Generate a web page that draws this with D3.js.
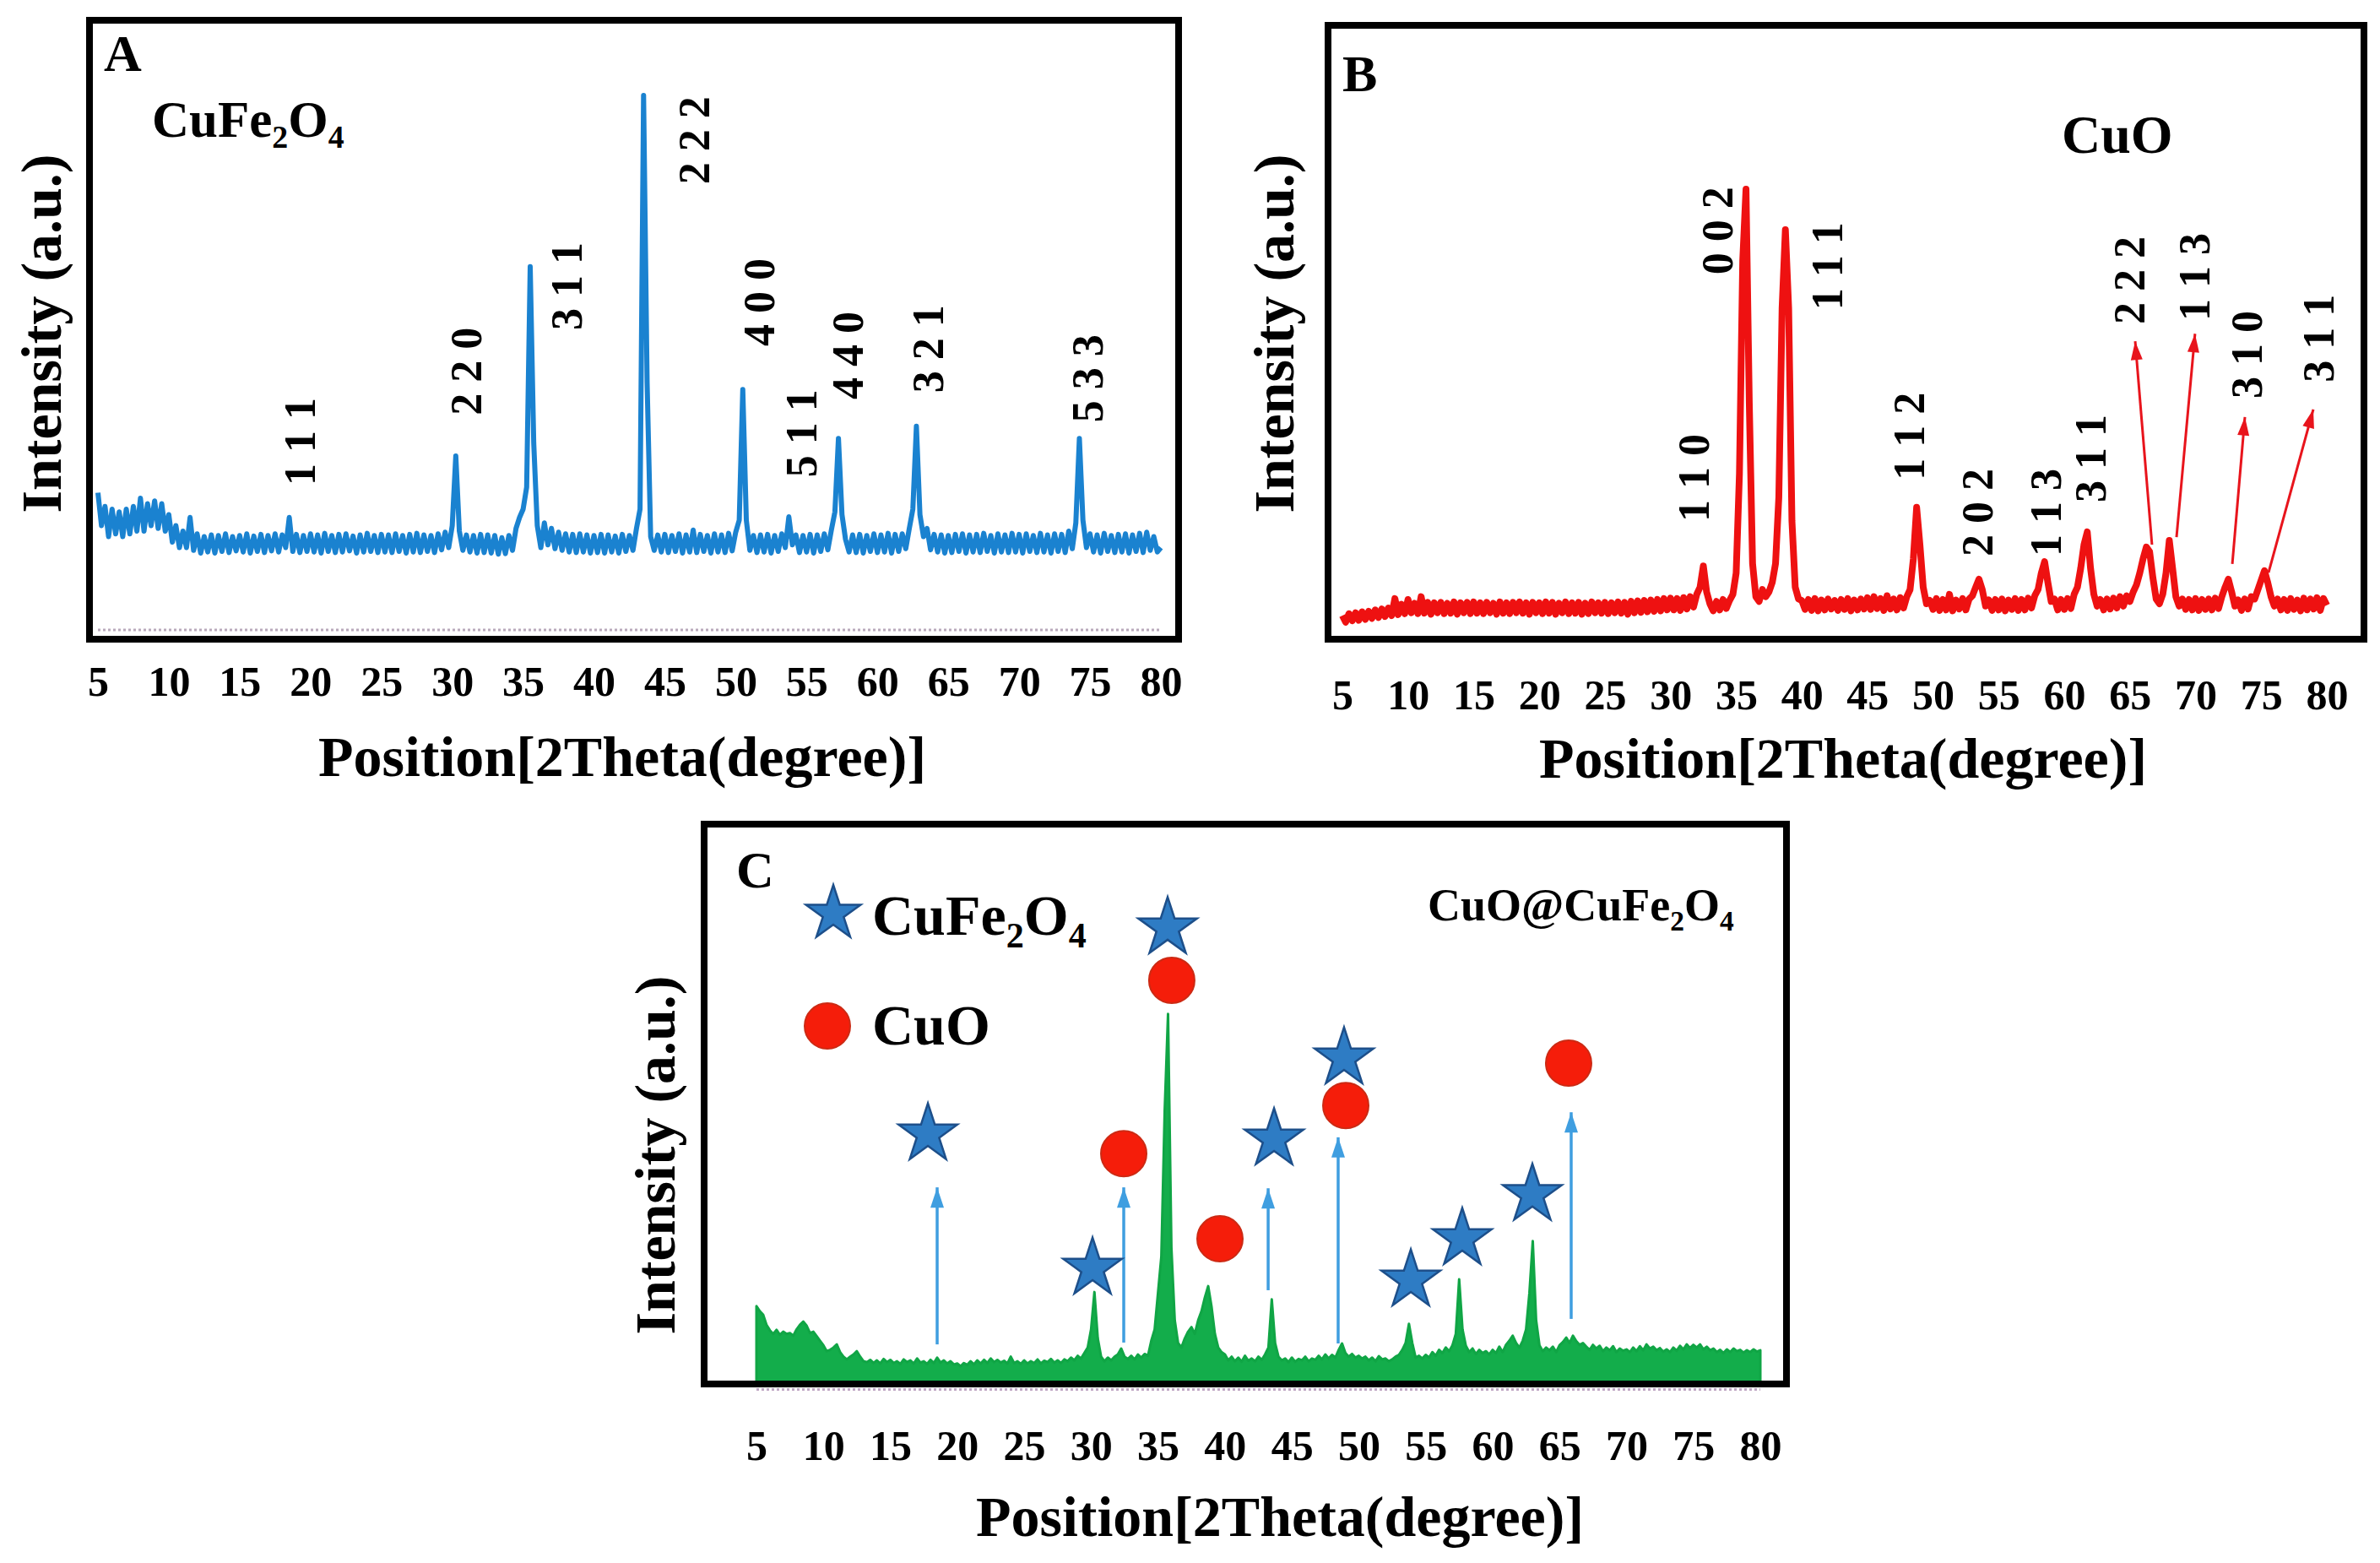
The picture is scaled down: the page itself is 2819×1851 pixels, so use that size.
<!DOCTYPE html>
<html>
<head>
<meta charset="utf-8">
<script src="https://cdn.jsdelivr.net/npm/d3@7"></script>
<style>
  body { margin: 0; background: #fff; }
  svg text { font-family: "Liberation Serif", "Times New Roman", serif; font-weight: bold; }
</style>
</head>
<body>
<script>
// x grid: 2theta from 5 to 80 every 0.25 degree
var thetaStart = 5, thetaStep = 0.25;
var tickVals = [5, 10, 15, 20, 25, 30, 35, 40, 45, 50, 55, 60, 65, 70, 75, 80];

// A: CuFe2O4 pattern (a.u.)
var ferriteI = [
  25.0,19.0,22.5,17.0,22.0,17.5,21.5,17.0,22.0,17.5,22.5,18.0,24.0,18.0,23.0,19.0,23.5,18.5,23.0,18.0,
  21.0,16.0,19.0,15.0,18.0,15.0,20.5,14.5,17.5,14.0,17.0,14.2,17.3,14.0,17.2,14.3,17.5,14.1,17.0,14.4,
  17.2,14.2,17.5,14.0,17.1,14.3,17.4,14.1,17.2,14.4,17.5,14.2,17.3,15.0,20.5,14.3,17.4,14.1,17.2,14.3,
  17.5,14.2,17.3,14.0,17.6,14.3,17.2,14.1,17.4,14.2,17.5,14.4,17.1,14.0,17.3,14.2,17.6,14.3,17.2,14.1,
  17.4,14.2,17.3,14.1,17.5,14.3,17.2,14.0,17.4,14.2,17.6,14.1,17.3,14.3,17.2,14.1,17.5,14.6,17.8,15.0,
  19.0,31.7,18.0,14.5,17.3,14.2,17.2,14.0,17.4,14.1,17.3,14.0,17.2,13.8,16.8,13.9,17.2,14.5,18.5,20.5,
  22.0,26.0,66.2,34.0,19.0,15.0,19.5,15.5,18.5,14.8,17.8,14.5,17.5,14.2,17.4,14.1,17.5,14.2,17.3,14.0,
  17.2,14.1,17.4,14.0,17.3,14.2,17.1,14.0,17.4,14.3,17.2,14.5,18.5,22.0,97.4,45.0,17.0,14.5,17.3,14.2,
  17.4,14.1,17.2,14.3,17.5,14.0,17.3,14.2,18.2,14.1,17.4,14.3,17.2,14.0,17.5,14.2,17.3,14.1,17.6,14.4,
  17.8,20.0,43.8,20.0,14.5,17.2,14.1,17.3,14.2,17.4,14.0,17.2,14.3,17.5,15.0,20.6,15.5,17.3,14.1,17.2,
  14.2,17.4,14.0,17.3,14.3,17.5,14.6,18.2,21.5,34.9,21.0,16.5,14.2,17.3,14.1,17.4,14.0,17.2,14.3,17.5,
  14.1,17.3,14.2,17.6,14.0,17.4,14.3,17.5,14.8,18.5,22.0,37.1,21.0,17.0,18.5,14.6,17.4,14.2,17.3,14.0,
  17.2,14.1,17.4,14.3,17.5,14.0,17.3,14.2,17.4,14.1,17.6,14.3,17.2,14.0,17.5,14.2,17.3,14.1,17.6,14.2,
  17.4,14.0,17.5,14.3,17.2,14.1,17.6,14.2,17.3,14.0,17.5,14.3,17.4,14.1,18.0,14.8,19.5,34.9,20.0,15.0,
  17.5,14.2,17.3,14.0,17.6,14.3,17.2,14.1,17.4,14.2,17.5,14.0,17.3,14.3,17.6,14.1,17.8,14.5,17.0,14.2,
  15.0
];

// B: CuO pattern (a.u.)
var cuoI = [
  5.0,3.6,5.4,3.9,5.6,4.0,5.8,4.2,5.9,4.4,6.2,4.6,6.4,4.8,6.6,5.0,8.6,5.2,7.4,5.4,
  8.4,5.6,7.6,5.4,9.0,5.5,7.8,5.3,7.7,5.6,7.8,5.4,7.6,5.5,7.9,5.3,7.7,5.6,7.8,5.4,
  7.9,5.5,7.7,5.4,7.8,5.6,7.6,5.3,7.9,5.5,7.7,5.4,7.8,5.6,7.9,5.5,7.7,5.3,7.8,5.6,
  7.7,5.4,7.9,5.5,7.8,5.3,7.6,5.6,7.9,5.4,7.7,5.5,7.8,5.3,7.6,5.4,7.9,5.6,7.7,5.5,
  7.8,5.4,7.7,5.6,7.9,5.5,7.8,5.3,8.0,5.6,8.1,5.7,8.2,5.8,8.3,5.9,8.4,6.0,8.6,6.2,
  8.7,6.2,8.6,6.1,8.8,6.4,9.0,6.8,9.5,11.0,15.5,10.0,7.5,6.0,8.0,6.2,8.4,6.5,8.2,9.5,
  14.0,35.0,80.0,95.2,50.0,16.0,9.0,8.0,10.5,9.0,10.0,12.0,16.0,30.0,70.0,86.6,70.0,25.0,11.0,8.5,
  8.2,6.3,8.4,6.1,8.6,6.0,8.3,6.2,8.5,6.4,8.2,6.1,8.4,6.3,8.6,6.0,8.3,6.2,8.5,6.4,
  8.8,6.3,9.0,6.5,8.6,6.1,9.2,6.4,8.5,6.2,8.8,6.6,9.0,10.5,17.0,27.9,20.0,11.0,7.5,8.2,
  6.3,8.6,6.1,8.4,6.2,9.5,6.0,8.3,6.4,8.6,6.2,8.5,9.2,11.0,12.7,10.5,7.0,8.3,6.1,8.4,
  6.2,8.5,6.0,8.3,6.3,8.6,6.1,8.4,6.2,8.7,6.6,9.2,10.5,14.0,16.4,12.0,8.0,8.5,6.2,8.4,
  6.3,8.6,6.5,9.5,11.0,15.0,20.0,22.7,15.0,9.5,7.0,8.4,6.2,8.5,6.4,8.7,6.6,9.0,7.0,9.2,
  8.0,10.0,11.5,14.0,17.0,19.5,18.5,13.0,8.5,7.5,9.5,14.0,20.9,15.0,9.0,7.0,8.5,6.3,8.4,6.2,
  8.6,6.1,8.4,6.3,8.5,6.2,8.7,6.5,9.0,11.0,12.7,10.0,7.0,8.3,6.1,8.5,6.4,9.0,8.5,10.5,
  12.5,14.5,12.0,9.0,7.0,8.5,6.2,8.4,6.1,8.6,6.3,8.3,6.0,8.7,6.2,8.5,6.4,8.8,6.1,8.6,
  7.2
];

// C: CuO@CuFe2O4 pattern (a.u.)
var compositeI = [
  17.1,16.0,15.2,13.0,11.8,11.0,11.9,10.8,11.5,11.0,11.2,10.6,12.0,13.0,13.7,12.8,11.2,11.5,10.5,9.5,
  8.5,7.2,7.5,8.0,8.7,7.0,6.0,5.4,6.0,6.5,7.2,6.0,5.0,4.8,5.3,4.6,5.2,4.5,5.5,4.8,
  5.3,4.6,5.0,4.4,5.4,4.8,5.2,4.5,5.6,4.7,5.0,4.4,5.3,4.6,5.8,4.7,5.2,4.5,5.0,4.3,
  4.5,3.9,4.6,4.2,5.0,4.3,5.2,4.5,5.3,4.6,5.6,4.8,5.3,4.7,5.1,4.5,6.0,4.6,5.0,4.4,
  5.2,4.5,5.0,4.6,5.4,4.5,5.1,4.8,5.5,4.7,5.2,4.6,5.4,5.0,5.8,5.2,6.2,5.6,6.8,8.0,
  12.0,20.2,10.0,6.0,5.0,5.8,5.2,6.0,6.5,7.8,6.0,5.5,6.2,5.4,6.5,5.8,6.6,6.2,9.5,12.0,
  20.0,28.0,60.0,81.3,30.0,14.0,9.0,8.0,10.0,11.5,12.5,11.0,14.0,16.0,19.0,21.5,17.0,11.0,8.0,7.0,
  6.5,5.2,6.0,5.0,5.8,4.9,6.2,5.1,5.6,5.0,6.0,5.3,6.5,8.0,18.6,9.0,6.0,5.2,5.6,4.8,
  5.8,4.9,5.5,5.2,6.0,5.0,5.6,5.3,6.2,5.4,6.5,5.6,6.4,5.8,7.5,8.9,6.8,6.0,6.6,5.8,
  6.2,5.6,6.0,5.2,5.8,5.0,6.1,5.4,5.6,5.0,5.4,6.0,6.4,7.5,9.0,13.2,9.0,5.8,6.2,5.6,
  6.4,5.8,7.0,6.2,7.5,6.8,8.0,7.2,8.5,11.0,23.0,12.0,8.4,7.0,7.8,6.6,7.5,6.8,7.2,6.5,
  7.5,6.8,8.2,7.0,8.6,9.5,10.6,9.0,8.0,9.5,12.0,20.0,31.4,14.0,8.5,7.2,8.0,7.4,8.2,7.0,
  8.5,9.2,10.2,9.0,10.6,9.4,8.6,9.0,8.2,7.5,8.6,7.8,8.4,7.2,8.0,7.4,8.3,7.0,7.8,7.3,
  7.6,7.0,8.0,7.2,8.3,7.4,8.7,7.8,8.2,7.4,7.9,7.1,7.6,7.0,8.0,7.3,8.4,7.6,8.7,7.9,
  8.6,8.0,8.7,7.6,8.2,7.4,7.8,7.0,7.5,6.8,7.6,7.0,7.8,7.2,7.5,6.9,7.4,7.0,7.6,7.1,
  7.4
];

// hkl labels: [text, 2theta, intensity]
var ferriteHkl = [
  ["1 1 1", 19.24, 34.3], ["2 2 0", 31.03, 47.1], ["3 1 1", 38.12, 62.6],
  ["2 2 2", 47.06, 89.2], ["4 0 0", 51.70, 59.7], ["5 1 1", 54.68, 35.8],
  ["4 4 0", 57.90, 50.0], ["3 2 1", 63.56, 51.2], ["5 3 3", 74.82, 45.8]
];
var cuoHkl = [
  ["1 1 0", 31.82, 34.1], ["0 0 2", 33.56, 86.4], ["1 1 1", 41.98, 78.9],
  ["1 1 2", 48.22, 42.9], ["2 0 2", 53.43, 26.8], ["1 1 3", 58.64, 26.8],
  ["3 1 1", 62.05, 38.2], ["2 2 2", 65.01, 75.9], ["1 1 3", 69.96, 76.6],
  ["3 1 0", 73.89, 60.2], ["3 1 1", 79.42, 63.6]
];
// B arrows: [from 2theta, from I, to 2theta, to I]
var cuoArrows = [
  [66.68, 20.0, 65.40, 63.0], [68.55, 21.6, 69.96, 64.6],
  [72.80, 15.9, 73.76, 47.0], [75.56, 14.1, 78.97, 48.6]
];
// C markers: [2theta, I]
var ferriteMarks = [
  [17.81, 54.9], [30.11, 25.4], [35.72, 100.2], [43.67, 53.8],
  [48.90, 71.6], [53.89, 22.8], [57.73, 31.9], [62.97, 41.6]
];
var cuoMarks = [[32.44, 50.6], [36.03, 88.7], [39.63, 31.9], [49.03, 61.2], [65.68, 70.5]];
// C arrows: [2theta, from I, to I]
var compArrows = [[18.5, 8.7, 43.2], [32.44, 9.1, 43.2], [43.23, 20.6, 43.0], [48.46, 8.9, 54.2], [65.87, 14.3, 59.7]];

var W = 2819, H = 1851;
var svg = d3.select("body").append("svg").attr("width", W).attr("height", H);
svg.append("rect").attr("width", W).attr("height", H).attr("fill", "#fff");

var defs = svg.append("defs");
function arrowHead(id, color, len, half) {
  defs.append("marker").attr("id", id)
      .attr("markerUnits", "userSpaceOnUse")
      .attr("viewBox", (-len - 2) + " " + (-half - 2) + " " + (len + 4) + " " + (2 * half + 4))
      .attr("refX", 0).attr("refY", 0)
      .attr("markerWidth", len + 4).attr("markerHeight", 2 * half + 4)
      .attr("orient", "auto")
    .append("path").attr("d", "M0,0L" + (-len) + "," + (-half) + "L" + (-len) + "," + half + "Z").attr("fill", color);
}
arrowHead("headRed", "#e8141c", 22, 7);
arrowHead("headBlue", "#3f9ee0", 24, 8);

function frame(p) {
  var x = d3.scaleLinear().domain([5, 80]).range([p.x5, p.x80]);
  var y = d3.scaleLinear().domain([0, 100]).range([p.y0, p.y100]);
  var axis = svg.append("g")
      .attr("transform", "translate(0," + p.tickY + ")")
      .call(d3.axisBottom(x).tickValues(tickVals).tickSize(0).tickPadding(0));
  axis.attr("font-size", 50).attr("font-family", null);
  axis.select(".domain").remove();
  axis.selectAll("text").attr("fill", "#000");
  svg.append("text").attr("x", p.titleX).attr("y", p.titleY)
      .attr("text-anchor", "middle").attr("font-size", 68)
      .text("Position[2Theta(degree)]");
  svg.append("text")
      .attr("transform", "translate(" + p.yTitleX + "," + p.yTitleY + ")rotate(-90)")
      .attr("text-anchor", "middle").attr("font-size", 68)
      .text("Intensity (a.u.)");
  svg.append("text").attr("x", p.letter[0]).attr("y", p.letter[1])
      .attr("font-size", 62).text(p.key);
  return {x: x, y: y};
}

function box(b) {
  svg.append("rect")
      .attr("x", b[0]).attr("y", b[1])
      .attr("width", b[2] - b[0]).attr("height", b[3] - b[1])
      .attr("fill", "none").attr("stroke", "#000").attr("stroke-width", 8);
}

function chem(sel, fs, parts) {
  var shift = 0;
  parts.forEach(function(part) {
    var sub = /^\d$/.test(part);
    var off = sub ? fs * 0.22 : 0;
    sel.append("tspan").attr("dy", off - shift).attr("font-size", sub ? fs * 0.62 : fs).text(part);
    shift = off;
  });
}

function hkl(data, s, size) {
  svg.append("g").selectAll("text")
      .data(data)
    .enter().append("text")
      .attr("transform", function(d) { return "translate(" + s.x(d[1]) + "," + s.y(d[2]) + ")rotate(-90)"; })
      .attr("text-anchor", "middle")
      .attr("dominant-baseline", "central")
      .attr("font-size", size)
      .text(function(d) { return d[0]; });
}

function theta(i) { return thetaStart + i * thetaStep; }

// ---------- A ----------
var pa = {key: "A", x5: 116, x80: 1375, y0: 746, y100: 96, tickY: 788,
  titleX: 737, titleY: 919, yTitleX: 72, yTitleY: 395, letter: [123, 84]};
var sa = frame(pa);
svg.append("line")
    .attr("x1", sa.x(5)).attr("x2", sa.x(80))
    .attr("y1", sa.y(0)).attr("y2", sa.y(0))
    .attr("stroke", "#b9a9bb").attr("stroke-width", 3).attr("stroke-dasharray", "3,3");
svg.append("path")
    .datum(ferriteI)
    .attr("fill", "none").attr("stroke", "#1a82d0").attr("stroke-width", 6)
    .attr("stroke-linejoin", "round")
    .attr("d", d3.line().x(function(d, i) { return sa.x(theta(i)); }).y(function(d) { return sa.y(d); }));
hkl(ferriteHkl, sa, 52);
chem(svg.append("text").attr("x", 180).attr("y", 162), 61, ["CuFe", "2", "O", "4"]);
box([106, 24, 1396, 757]);

// ---------- B ----------
var pb = {key: "B", x5: 1590, x80: 2756, y0: 757, y100: 197, tickY: 804,
  titleX: 2183, titleY: 921, yTitleX: 1532, yTitleY: 395, letter: [1590, 108]};
var sb = frame(pb);
svg.append("path")
    .datum(cuoI)
    .attr("fill", "none").attr("stroke", "#ee1111").attr("stroke-width", 8)
    .attr("stroke-linejoin", "round")
    .attr("d", d3.line().x(function(d, i) { return sb.x(theta(i)); }).y(function(d) { return sb.y(d); }));
hkl(cuoHkl, sb, 52);
svg.append("g").selectAll("line")
    .data(cuoArrows)
  .enter().append("line")
    .attr("x1", function(d) { return sb.x(d[0]); }).attr("y1", function(d) { return sb.y(d[1]); })
    .attr("x2", function(d) { return sb.x(d[2]); }).attr("y2", function(d) { return sb.y(d[3]); })
    .attr("stroke", "#e8141c").attr("stroke-width", 3)
    .attr("marker-end", "url(#headRed)");
chem(svg.append("text").attr("x", 2442).attr("y", 181), 64, ["CuO"]);
box([1573, 30, 2800, 757]);

// ---------- C ----------
var pc = {key: "C", x5: 896, x80: 2085, y0: 1639, y100: 1100, tickY: 1693,
  titleX: 1516, titleY: 1819, yTitleX: 799, yTitleY: 1368, letter: [872, 1051]};
var sc = frame(pc);
svg.append("line")
    .attr("x1", sc.x(5)).attr("x2", sc.x(80))
    .attr("y1", sc.y(-1.2)).attr("y2", sc.y(-1.2))
    .attr("stroke", "#c0a8c4").attr("stroke-width", 3).attr("stroke-dasharray", "3,3");
svg.append("path")
    .datum(compositeI)
    .attr("fill", "#13ad4b").attr("stroke", "#10a545").attr("stroke-width", 3)
    .attr("stroke-linejoin", "round")
    .attr("d", d3.area()
      .x(function(d, i) { return sc.x(theta(i)); })
      .y0(sc.y(0))
      .y1(function(d) { return sc.y(d); }));
svg.append("g").selectAll("line")
    .data(compArrows)
  .enter().append("line")
    .attr("x1", function(d) { return sc.x(d[0]); }).attr("y1", function(d) { return sc.y(d[1]); })
    .attr("x2", function(d) { return sc.x(d[0]); }).attr("y2", function(d) { return sc.y(d[2]); })
    .attr("stroke", "#3f9ee0").attr("stroke-width", 3.5)
    .attr("marker-end", "url(#headBlue)");
var star = d3.symbol().type(d3.symbolStar).size(1500);
svg.append("g").selectAll("path")
    .data(ferriteMarks)
  .enter().append("path")
    .attr("transform", function(d) { return "translate(" + sc.x(d[0]) + "," + sc.y(d[1]) + ")"; })
    .attr("d", star)
    .attr("fill", "#2e7cc4").attr("stroke", "#1d4f8a").attr("stroke-width", 2.5);
svg.append("g").selectAll("circle")
    .data(cuoMarks)
  .enter().append("circle")
    .attr("cx", function(d) { return sc.x(d[0]); }).attr("cy", function(d) { return sc.y(d[1]); })
    .attr("r", 27)
    .attr("fill", "#f51d0a").attr("stroke", "#cc2a14").attr("stroke-width", 2);

// legend
svg.append("path").attr("transform", "translate(987,1082)").attr("d", d3.symbol().type(d3.symbolStar).size(1300))
    .attr("fill", "#2e7cc4").attr("stroke", "#1d4f8a").attr("stroke-width", 2.5);
chem(svg.append("text").attr("x", 1033).attr("y", 1107), 68, ["CuFe", "2", "O", "4"]);
svg.append("circle").attr("cx", 980).attr("cy", 1215).attr("r", 27)
    .attr("fill", "#f51d0a").attr("stroke", "#cc2a14").attr("stroke-width", 2);
chem(svg.append("text").attr("x", 1033).attr("y", 1237), 68, ["CuO"]);
chem(svg.append("text").attr("x", 1691).attr("y", 1090), 54, ["CuO@CuFe", "2", "O", "4"]);
box([834, 976, 2116, 1639]);
</script>
</body>
</html>
